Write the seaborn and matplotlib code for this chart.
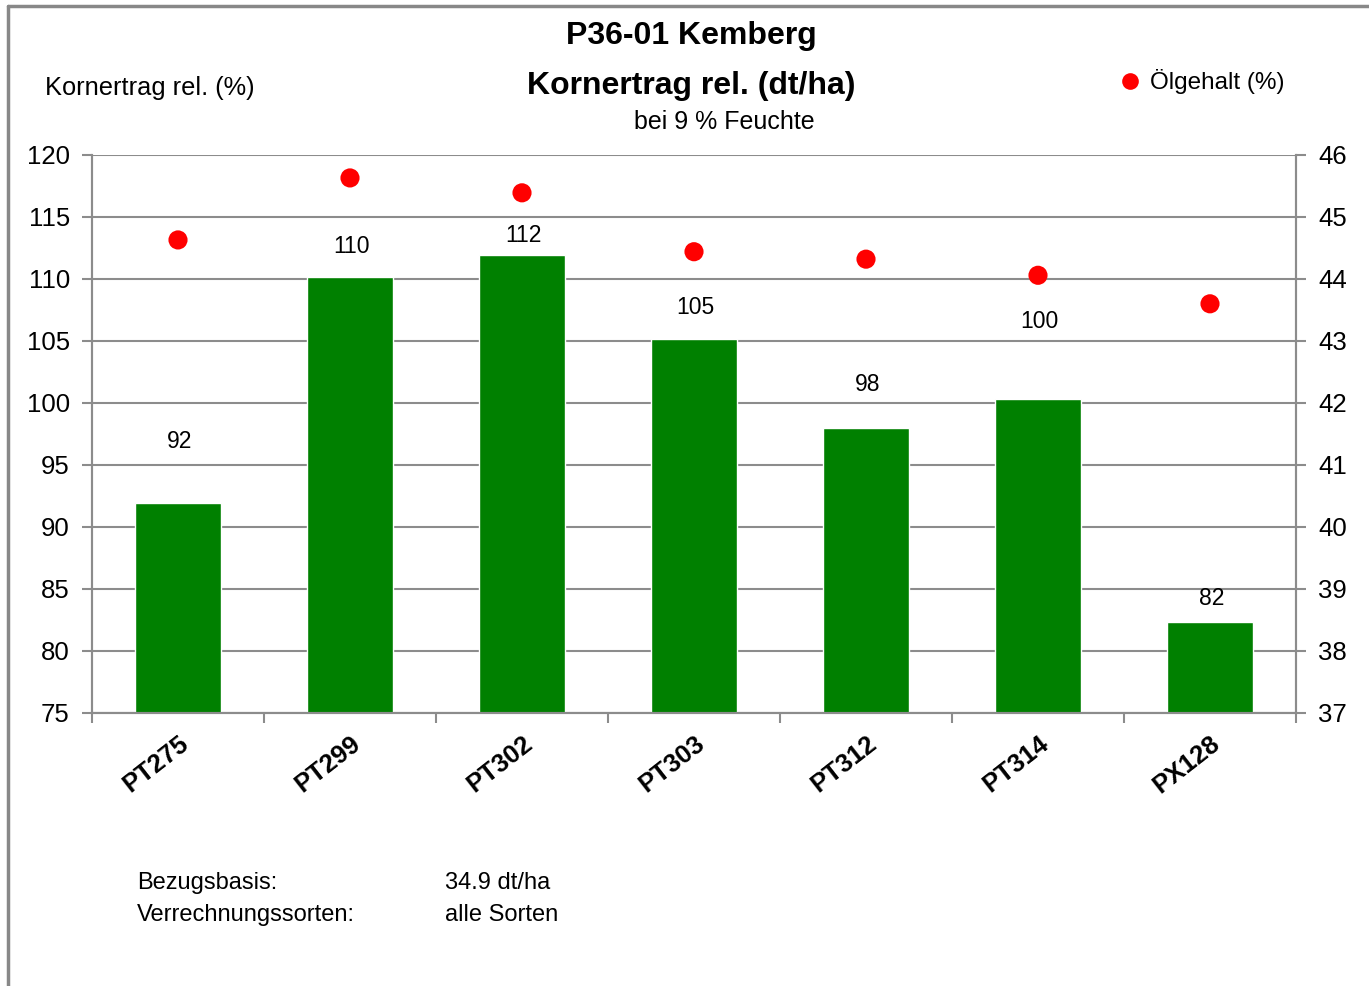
import matplotlib
matplotlib.use("Agg")
import matplotlib.pyplot as plt
import seaborn as sns
import pandas as pd
from matplotlib.lines import Line2D

# data
sorten = ["PT275", "PT299", "PT302", "PT303", "PT312", "PT314", "PX128"]
ertrag_rel = [91.9, 110.2, 111.9, 105.2, 98.0, 100.3, 82.3]
ertrag_label = ["92", "110", "112", "105", "98", "100", "82"]
oelgehalt = [44.63, 45.63, 45.39, 44.44, 44.32, 44.06, 43.60]
# label heights (left axis units) as placed in the original
label_y = [96.9, 112.6, 113.5, 107.7, 101.5, 106.6, 84.2]

df = pd.DataFrame({"Sorte": sorten, "Ertrag": ertrag_rel, "Oel": oelgehalt})

sns.set_style("white")
plt.rcParams["font.family"] = ["Liberation Sans", "DejaVu Sans"]
plt.rcParams["text.color"] = "black"

fig = plt.figure(figsize=(13.69, 9.86), dpi=100)
ax = fig.add_axes([92 / 1369, 1 - 713 / 986, (1296 - 92) / 1369, (713 - 155) / 986])

grid_col = "#8c8c8c"
sns.barplot(data=df, x="Sorte", y="Ertrag", color="#008000", width=0.5,
            saturation=1, ax=ax, zorder=2)
ax.set_ylim(75, 120)
ax.set_yticks(range(75, 121, 5))
ax.set_xlim(-0.5, len(sorten) - 0.5)
ax.yaxis.grid(True, color=grid_col, linewidth=1.5, zorder=0)
ax.set_axisbelow(True)
ax.set_xlabel("")
ax.set_ylabel("")

for i, (lab, y) in enumerate(zip(ertrag_label, label_y)):
    ax.text(i + 0.01, y, lab, ha="center", va="center", fontsize=16.5, zorder=5)

ax2 = ax.twinx()
sns.scatterplot(data=df, x="Sorte", y="Oel", color="#ff0000", s=190,
                edgecolor="none", ax=ax2, zorder=4, legend=False)
ax2.set_ylim(37, 46)
ax2.set_yticks(range(37, 47))
ax2.set_ylabel("")
ax2.set_xlabel("")
ax2.set_xlim(-0.5, len(sorten) - 0.5)

for a in (ax, ax2):
    for s in a.spines.values():
        s.set_color(grid_col)
        s.set_linewidth(1.5)
    a.spines["top"].set_visible(False)

ax.tick_params(axis="y", which="both", direction="out", length=7, width=1.5,
               color=grid_col, labelcolor="black", labelsize=18.5, pad=9, left=True)
ax2.tick_params(axis="y", which="both", direction="out", length=7, width=1.5,
                color=grid_col, labelcolor="black", labelsize=18.5, pad=9, right=True)

# category boundaries as x ticks, names as minor labels
ax.set_xticks([i - 0.5 for i in range(len(sorten) + 1)])
ax.set_xticklabels([])
ax.tick_params(axis="x", which="major", direction="out", length=7, width=1.5,
               color=grid_col, bottom=True)
ax.set_xticks(range(len(sorten)), minor=True)
ax.set_xticklabels(sorten, minor=True, rotation=38, ha="right",
                   rotation_mode="anchor", fontsize=18.5, fontweight="bold",
                   color="black")
ax.tick_params(axis="x", which="minor", length=0, pad=13)
ax2.tick_params(axis="x", which="both", bottom=False, labelbottom=False)

# titles and texts
fig.text(691 / 1369, 1 - 36 / 986, "P36-01 Kemberg", ha="center", va="center",
         fontsize=23, fontweight="bold")
fig.text(691 / 1369, 1 - 86 / 986, "Kornertrag rel. (dt/ha)", ha="center",
         va="center", fontsize=23, fontweight="bold")
fig.text(724 / 1369, 1 - 122 / 986, "bei 9 % Feuchte", ha="center",
         va="center", fontsize=18)
fig.text(45 / 1369, 1 - 88 / 986, "Kornertrag rel. (%)", ha="left",
         va="center", fontsize=18.3)

handle = Line2D([], [], linestyle="none", marker="o", markersize=12,
                markerfacecolor="#ff0000", markeredgecolor="none")
fig.legend([handle], ["Ölgehalt (%)"], loc="center left",
           bbox_to_anchor=(1094 / 1369, 1 - 82 / 986), frameon=False,
           fontsize=17.5, handletextpad=0.2, handlelength=1.2)

fig.text(137 / 1369, 1 - 883 / 986, "Bezugsbasis:", ha="left", va="center",
         fontsize=17)
fig.text(137 / 1369, 1 - 915 / 986, "Verrechnungssorten:", ha="left",
         va="center", fontsize=17)
fig.text(445 / 1369, 1 - 883 / 986, "34.9 dt/ha", ha="left", va="center",
         fontsize=17)
fig.text(445 / 1369, 1 - 915 / 986, "alle Sorten", ha="left", va="center",
         fontsize=17)

# outer frame (top and left edges visible)
fig.add_artist(Line2D([8 / 1369, 1], [1 - 6 / 986, 1 - 6 / 986],
                      color="#888888", linewidth=2.5, transform=fig.transFigure))
fig.add_artist(Line2D([8 / 1369, 8 / 1369], [0, 1 - 6 / 986],
                      color="#888888", linewidth=2.5, transform=fig.transFigure))

fig.savefig("out.png", dpi=100)
